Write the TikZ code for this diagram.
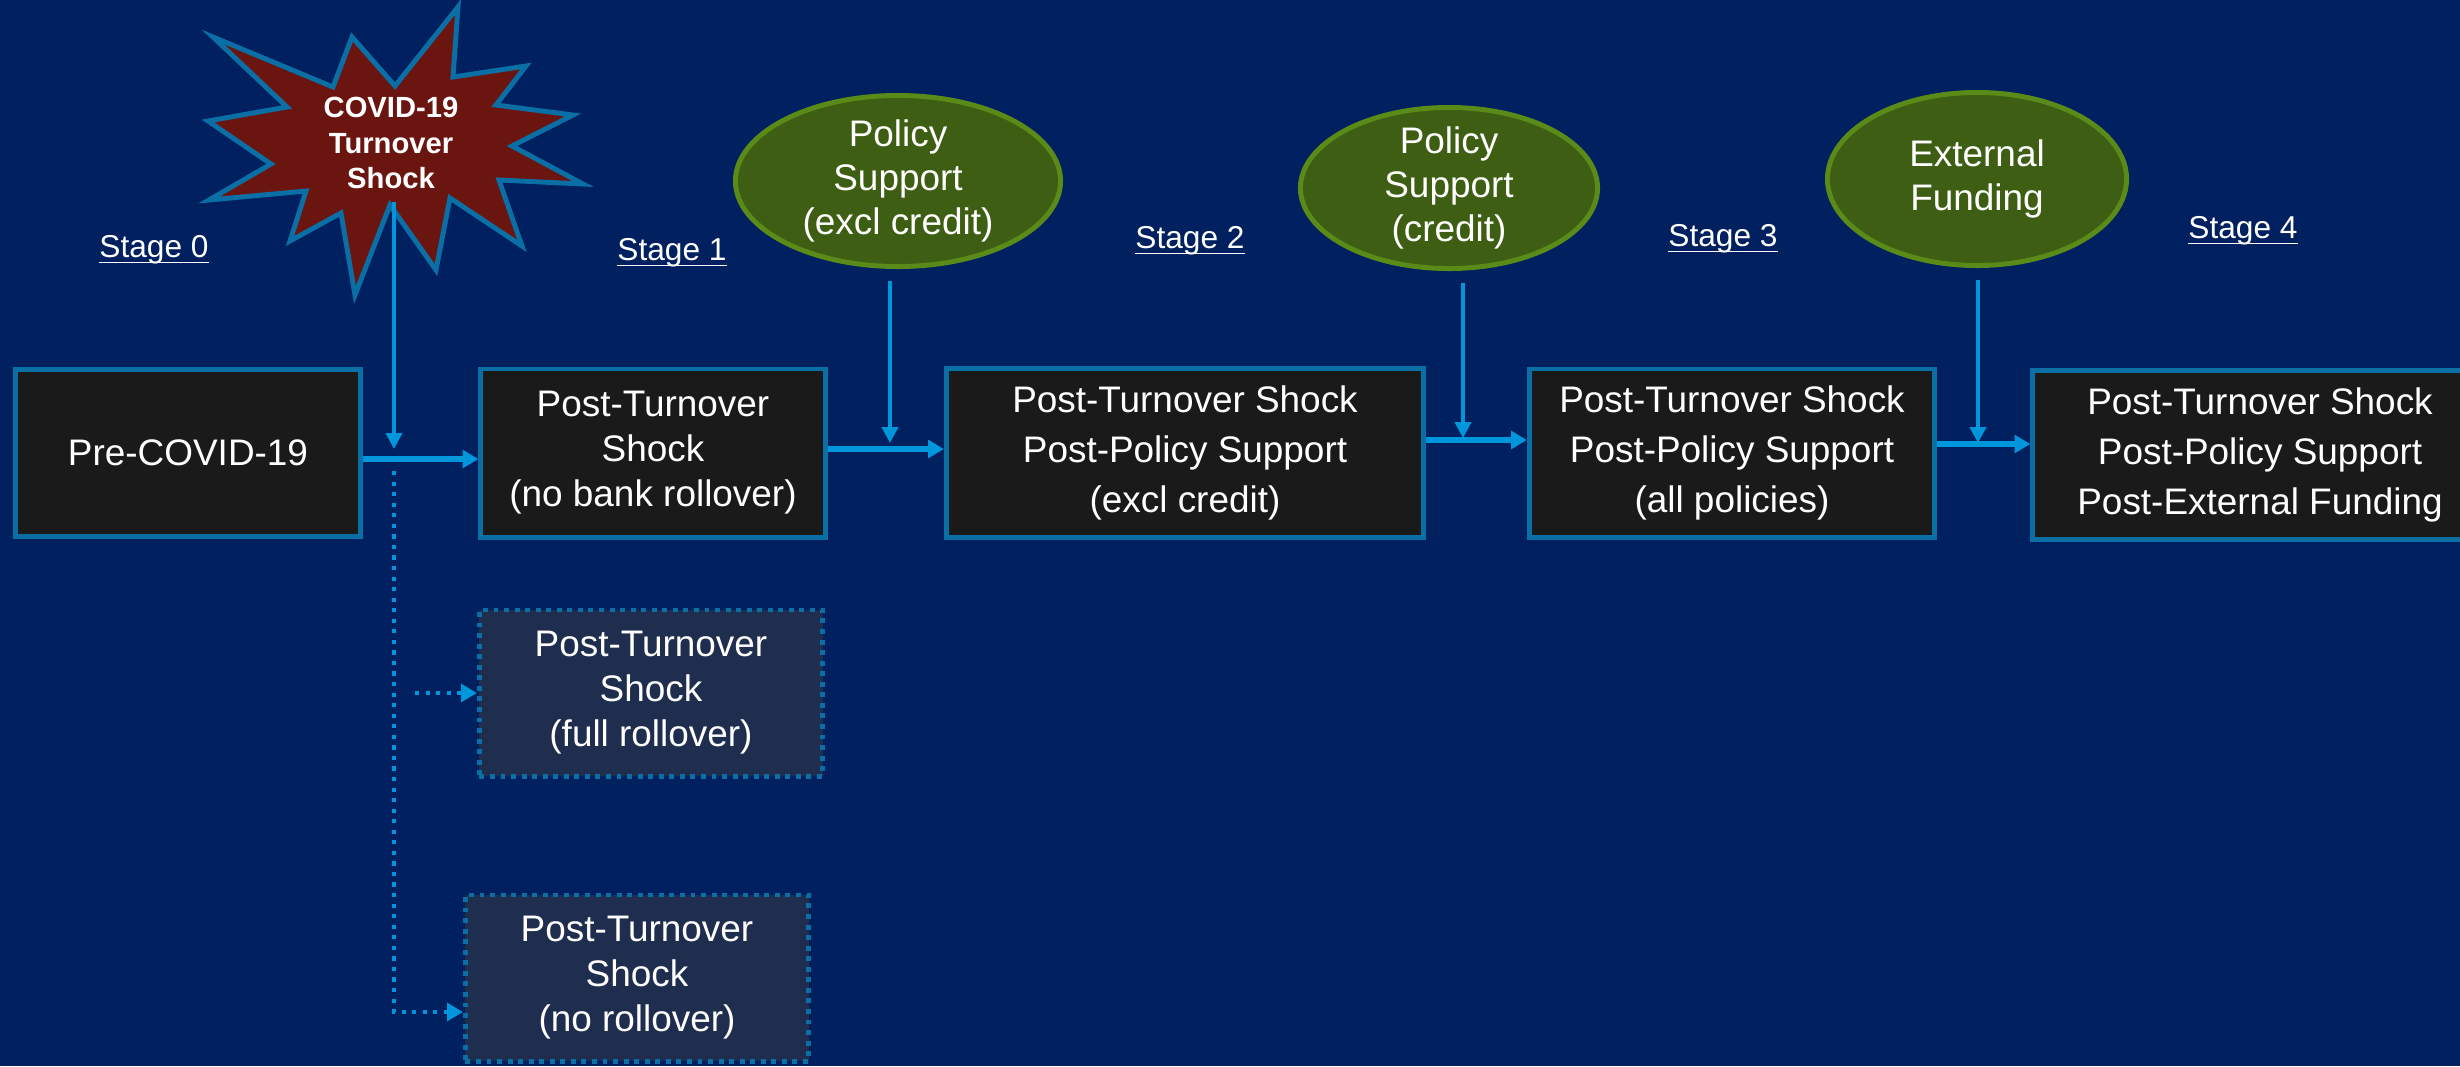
\documentclass[tikz,border=0pt]{standalone}
\usepackage{fontspec}
\setmainfont{Liberation Sans}
\usetikzlibrary{shapes.geometric,arrows.meta}
\definecolor{navy}{HTML}{002060}
\definecolor{boxedge}{HTML}{0A6FA5}
\definecolor{boxfill}{HTML}{1A1A1A}
\definecolor{altfill}{HTML}{1F2D4F}
\definecolor{arrowblue}{HTML}{0096DB}
\definecolor{leaf}{HTML}{3E5F13}
\definecolor{leafedge}{HTML}{5A8A18}
\definecolor{shockred}{HTML}{6B1510}

\begin{document}
\begin{tikzpicture}[x=0.01cm,y=-0.01cm]
        \tikzstyle{every node} = [text=white, inner sep=0pt]
        \tikzstyle{stagebox} = [rectangle, draw=boxedge, fill=boxfill, line width=1.4pt, align=center, font=\fontsize{10.5}{12.8}\selectfont]
        \tikzstyle{laterbox} = [stagebox, font=\fontsize{10.5}{14.3}\selectfont]
        \tikzstyle{altbox} = [stagebox, fill=altfill, dash pattern=on 1.4pt off 1.6pt, minimum width=3.43cm, minimum height=1.66cm]
        \tikzstyle{policy} = [ellipse, draw=leafedge, fill=leaf, line width=1.4pt, inner sep=-3pt, align=center, font=\fontsize{10.5}{12.5}\selectfont]
        \tikzstyle{stage} = [font=\fontsize{9}{11}\selectfont]
        \tikzstyle{flow} = [arrowblue, line width=1.5pt, -{Triangle[length=4.5pt,width=5pt]}]
        \tikzstyle{drop} = [arrowblue, line width=1.1pt, shorten <=0.12cm, -{Triangle[length=4.5pt,width=4.5pt]}]
        \tikzstyle{branch} = [flow, line width=1.4pt, dash pattern=on 1.2pt off 1.8pt]

        \fill[navy] (0,0) rectangle (2460,1066);
        \useasboundingbox (0,0) rectangle (2460,1066);

        \filldraw[fill=shockred, draw=boxedge, line width=1.4pt] (458,7) -- (453,77) -- (526,66) -- (496,105) -- (573,115) -- (512,146)
            -- (583,184) -- (499,180) -- (522,246) -- (450,198) -- (436,270) -- (390,205) -- (355,295) -- (341,213)
            -- (290,241) -- (306,191) -- (209,200) -- (271,164) -- (208,121) -- (287,107) -- (213,37) -- (333,87)
            -- (352,37) -- (395,86) -- cycle;
        \node[font=\fontsize{8.3}{10.2}\selectfont\bfseries, align=center] (covid) at (391,143) {COVID-19\\Turnover\\Shock};

        \node[policy, minimum width=3.25cm, minimum height=1.71cm] (pol1) at (898,181) {Policy\\Support\\(excl credit)};
        \node[policy, minimum width=2.97cm, minimum height=1.61cm] (pol2) at (1449,188) {Policy\\Support\\(credit)};
        \node[policy, minimum width=2.99cm, minimum height=1.73cm] (ext) at (1977,179) {External\\Funding};

        \foreach \n/\x/\y in {0/154/261, 1/672/264, 2/1190/252, 3/1723/250, 4/2243/242}
            \node[stage] (stage\n) at (\x,\y) {\underline{\smash{Stage \n}}};

        \node[stagebox, minimum width=3.45cm, minimum height=1.67cm] (pre) at (188,453) {Pre-COVID-19};
        \node[stagebox, minimum width=3.44cm, minimum height=1.68cm] (shock) at (653,453) {Post-Turnover\\Shock\\(no bank rollover)};
        \node[laterbox, minimum width=4.77cm, minimum height=1.69cm] (excl) at (1185,453) {Post-Turnover Shock\\Post-Policy Support\\(excl credit)};
        \node[laterbox, minimum width=4.05cm, minimum height=1.68cm] (allpol) at (1732,453) {Post-Turnover Shock\\Post-Policy Support\\(all policies)};
        \node[laterbox, minimum width=4.54cm, minimum height=1.69cm] (extfund) at (2260,455) {Post-Turnover Shock\\Post-Policy Support\\Post-External Funding};
        \node[altbox] (fullroll) at (651,693) {Post-Turnover\\Shock\\(full rollover)};
        \node[altbox] (noroll) at (637,978) {Post-Turnover\\Shock\\(no rollover)};

        \coordinate (j0) at (394,449);
        \coordinate (j1) at (890,443);
        \coordinate (j2) at (1463,438);
        \coordinate (j3) at (1978,443);
        \coordinate (split) at (394,471);
        \coordinate (bend) at (394,1012);
        \coordinate (fork) at (415,693);

        \foreach \from/\to in {covid/j0, pol1/j1, pol2/j2, ext/j3}
            \draw[drop] (\from.south -| \to) -- (\to);
        \foreach \from/\to/\dy in {pre/shock/-0.06, shock/excl/0.04, excl/allpol/0.13, allpol/extfund/0.09}
            \draw[flow] ([yshift=\dy cm]\from.east) -- ([yshift=\dy cm]\from.east -| \to.west);
        \draw[branch] (split) -- (bend) -- (bend -| noroll.west);
        \draw[branch] (fork) -- (fork -| fullroll.west);
    \end{tikzpicture}
\end{document}
